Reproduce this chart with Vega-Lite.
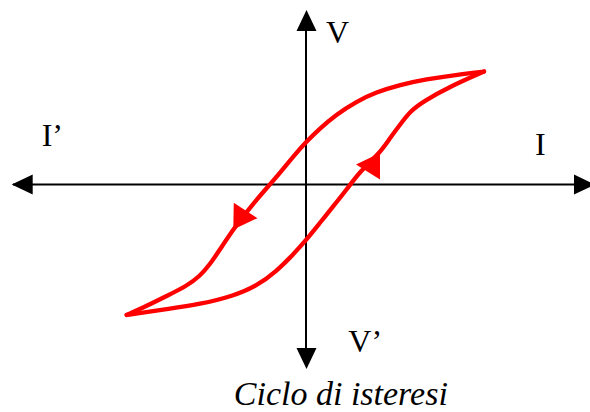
{
  "$schema": "https://vega.github.io/schema/vega-lite/v6.json",
  "width": 590,
  "height": 412,
  "padding": 0,
  "autosize": {"type": "fit", "contains": "padding"},
  "background": "white",
  "config": {"view": {"stroke": null}},
  "datasets": {
    "axes": [
      {"I": -2.93, "V": 0, "I2": 2.8, "V2": 0},
      {"I": 0, "V": 1.72, "I2": 0, "V2": -1.82}
    ],
    "axisTips": [
      {"I": -2.943, "V": 0, "angle": 180},
      {"I": 2.89, "V": 0, "angle": 0},
      {"I": 0.005, "V": 1.75, "angle": 270},
      {"I": 0.005, "V": -1.85, "angle": 90}
    ],
    "loop": [
      {"branch": "upper", "seq": 1, "I": 1.78, "V": 1.133},
      {"branch": "upper", "seq": 2, "I": 1.5, "V": 1.1},
      {"branch": "upper", "seq": 3, "I": 1.2, "V": 1.055},
      {"branch": "upper", "seq": 4, "I": 0.94, "V": 1.0},
      {"branch": "upper", "seq": 5, "I": 0.7, "V": 0.925},
      {"branch": "upper", "seq": 6, "I": 0.5, "V": 0.83},
      {"branch": "upper", "seq": 7, "I": 0.3, "V": 0.7},
      {"branch": "upper", "seq": 8, "I": 0.13, "V": 0.555},
      {"branch": "upper", "seq": 9, "I": 0.007, "V": 0.433},
      {"branch": "upper", "seq": 10, "I": -0.127, "V": 0.283},
      {"branch": "upper", "seq": 11, "I": -0.26, "V": 0.117},
      {"branch": "upper", "seq": 12, "I": -0.377, "V": -0.017},
      {"branch": "upper", "seq": 13, "I": -0.493, "V": -0.15},
      {"branch": "upper", "seq": 14, "I": -0.627, "V": -0.317},
      {"branch": "upper", "seq": 15, "I": -0.727, "V": -0.45},
      {"branch": "upper", "seq": 16, "I": -0.86, "V": -0.65},
      {"branch": "upper", "seq": 17, "I": -0.96, "V": -0.8},
      {"branch": "upper", "seq": 18, "I": -1.06, "V": -0.917},
      {"branch": "upper", "seq": 19, "I": -1.193, "V": -1.017},
      {"branch": "upper", "seq": 20, "I": -1.393, "V": -1.117},
      {"branch": "upper", "seq": 21, "I": -1.593, "V": -1.217},
      {"branch": "upper", "seq": 22, "I": -1.793, "V": -1.307},
      {"branch": "lower", "seq": 1, "I": -1.793, "V": -1.307},
      {"branch": "lower", "seq": 2, "I": -1.627, "V": -1.283},
      {"branch": "lower", "seq": 3, "I": -1.393, "V": -1.25},
      {"branch": "lower", "seq": 4, "I": -1.06, "V": -1.2},
      {"branch": "lower", "seq": 5, "I": -0.727, "V": -1.117},
      {"branch": "lower", "seq": 6, "I": -0.493, "V": -1.017},
      {"branch": "lower", "seq": 7, "I": -0.293, "V": -0.867},
      {"branch": "lower", "seq": 8, "I": -0.127, "V": -0.7},
      {"branch": "lower", "seq": 9, "I": 0.007, "V": -0.55},
      {"branch": "lower", "seq": 10, "I": 0.14, "V": -0.383},
      {"branch": "lower", "seq": 11, "I": 0.273, "V": -0.217},
      {"branch": "lower", "seq": 12, "I": 0.407, "V": -0.05},
      {"branch": "lower", "seq": 13, "I": 0.54, "V": 0.133},
      {"branch": "lower", "seq": 14, "I": 0.74, "V": 0.317},
      {"branch": "lower", "seq": 15, "I": 0.84, "V": 0.467},
      {"branch": "lower", "seq": 16, "I": 0.94, "V": 0.6},
      {"branch": "lower", "seq": 17, "I": 1.04, "V": 0.733},
      {"branch": "lower", "seq": 18, "I": 1.173, "V": 0.833},
      {"branch": "lower", "seq": 19, "I": 1.44, "V": 0.983},
      {"branch": "lower", "seq": 20, "I": 1.78, "V": 1.133}
    ],
    "loopArrows": [
      {"I": -0.727, "V": -0.45, "angle": 123},
      {"I": 0.74, "V": 0.317, "angle": 302}
    ],
    "labels": [
      {"label": "V", "I": 0.2, "V": 1.415},
      {"label": "I’", "I": -2.643, "V": 0.385},
      {"label": "I", "I": 2.29, "V": 0.293},
      {"label": "V’", "I": 0.423, "V": -1.683}
    ],
    "caption": [
      {"label": "Ciclo di isteresi", "I": 0.348, "V": -2.21}
    ]
  },
  "encoding": {
    "x": {"field": "I", "type": "quantitative", "scale": {"domain": [-3.06, 2.84], "nice": false, "zero": false}, "axis": null},
    "y": {"field": "V", "type": "quantitative", "scale": {"domain": [-2.27, 1.85], "nice": false, "zero": false}, "axis": null}
  },
  "layer": [
    {
      "data": {"name": "axes"},
      "mark": {"type": "rule", "color": "black", "strokeWidth": 2},
      "encoding": {
        "x2": {"field": "I2"},
        "y2": {"field": "V2"}
      }
    },
    {
      "data": {"name": "loop"},
      "mark": {"type": "line", "color": "#ff0000", "strokeWidth": 4.3, "interpolate": "basis", "strokeCap": "round", "strokeJoin": "round"},
      "encoding": {
        "detail": {"field": "branch"},
        "order": {"field": "seq", "type": "quantitative"}
      }
    },
    {
      "data": {"name": "loopArrows"},
      "mark": {"type": "point", "shape": "M0,0L-1.6,-1L-1.6,1Z", "filled": true, "color": "#ff0000", "opacity": 1, "size": 800, "strokeWidth": 0},
      "encoding": {
        "angle": {"field": "angle", "type": "quantitative", "scale": null}
      }
    },
    {
      "data": {"name": "axisTips"},
      "mark": {"type": "point", "shape": "M0,0L-2.1,-1L-2.1,1Z", "filled": true, "color": "black", "opacity": 1, "size": 400, "strokeWidth": 0, "clip": true},
      "encoding": {
        "angle": {"field": "angle", "type": "quantitative", "scale": null}
      }
    },
    {
      "data": {"name": "labels"},
      "mark": {"type": "text", "align": "left", "baseline": "alphabetic", "font": "Liberation Serif", "fontSize": 32, "color": "black"},
      "encoding": {
        "text": {"field": "label"}
      }
    },
    {
      "data": {"name": "caption"},
      "mark": {"type": "text", "align": "center", "baseline": "alphabetic", "font": "Liberation Serif", "fontSize": 34, "fontStyle": "italic", "color": "black"},
      "encoding": {
        "text": {"field": "label"}
      }
    }
  ]
}
